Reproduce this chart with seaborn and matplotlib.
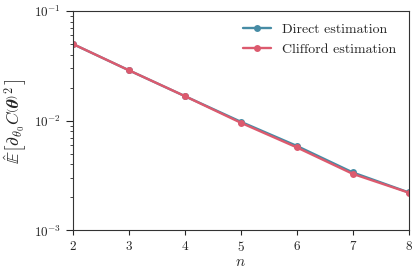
import pandas as pd
import matplotlib
matplotlib.use("Agg")
import matplotlib.pyplot as plt
import seaborn as sns

# number of qubits
n_values = [2, 3, 4, 5, 6, 7, 8]
# variance of the gradient
direct_est = [0.0502, 0.0289, 0.0168, 0.0098, 0.0059, 0.00338, 0.00222]
clifford_est = [0.0502, 0.0289, 0.0168, 0.0096, 0.00572, 0.00328, 0.00221]
series_names = ["Direct estimation", "Clifford estimation"]
colors = ["#468ca5", "#dc5a6e"]

sns.set_style("ticks")
plt.rcParams["font.family"] = "serif"
plt.rcParams["font.serif"] = ["cmr10"]
plt.rcParams["mathtext.fontset"] = "cm"
plt.rcParams["axes.formatter.use_mathtext"] = True

df = pd.DataFrame({
    "n": n_values * 2,
    "value": direct_est + clifford_est,
    "method": [series_names[0]] * len(n_values) + [series_names[1]] * len(n_values),
})

fig, ax = plt.subplots(figsize=(4.15, 2.76), dpi=100)
sns.lineplot(data=df, x="n", y="value", hue="method", palette=colors,
             marker="o", markersize=5, markeredgewidth=0, linewidth=1.7, ax=ax)

ax.set_yscale("log")
ax.set_xlim(2, 8)
ax.set_ylim(1e-3, 1e-1)
ax.set_xlabel("$n$", fontsize=11, labelpad=1)

ylab = r"$\hat{\mathbb{E}}\left[\partial_{\theta_0} C\left(\boldsymbol{\theta}\right)^{2^{\,}}_{_{\,}}\right]$"
ax.set_ylabel(ylab, fontsize=12.5, labelpad=3)
ax.tick_params(labelsize=9.5)
ax.tick_params(axis="y", which="major", length=5)
for s in ax.spines.values():
    s.set_color("#333333")
ax.legend(title=None, frameon=False, fontsize=10, loc="upper right", handlelength=2)

fig.subplots_adjust(left=0.175, right=0.985, top=0.96, bottom=0.165)
fig.savefig("out.png", dpi=100)
